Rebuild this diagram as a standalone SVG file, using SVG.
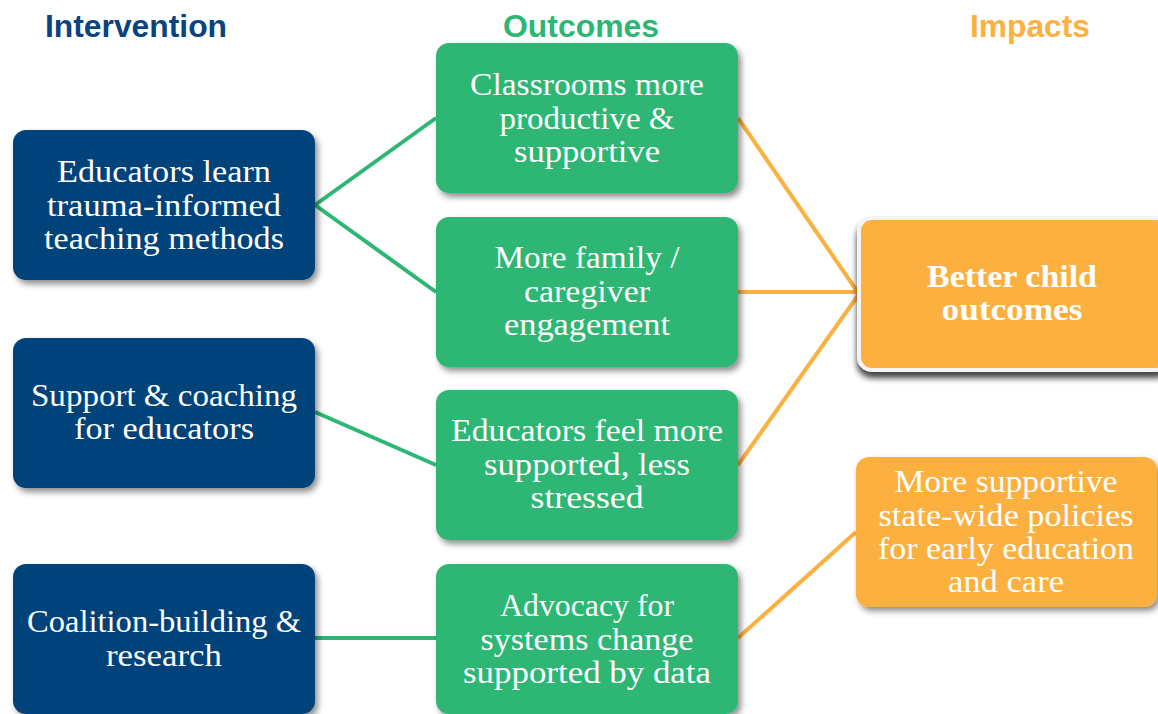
<svg xmlns="http://www.w3.org/2000/svg" width="1158" height="714" viewBox="0 0 1158 714">
<defs>
<style>
.hdr{font-family:"Liberation Sans",Arial,sans-serif;font-weight:bold;font-size:31px;text-anchor:middle}
.t{font-family:"Liberation Serif","Times New Roman",serif;font-size:31px;fill:#ffffff;text-anchor:middle}
.b{font-weight:bold}
.blue{fill:#00427a}
.green{fill:#2db674}
.orange{fill:#fbb040}
.lg{stroke:#2db674;stroke-width:4;fill:none}
.lo{stroke:#fbb040;stroke-width:4;fill:none}
</style>
<filter id="sh" x="-10%" y="-10%" width="125%" height="130%">
<feDropShadow dx="3" dy="4" stdDeviation="3" flood-color="#000" flood-opacity="0.45"/>
</filter>
<filter id="sh2" x="-10%" y="-10%" width="125%" height="130%">
<feDropShadow dx="0" dy="6" stdDeviation="3" flood-color="#000" flood-opacity="0.75"/>
</filter>
</defs>
<rect width="1158" height="714" fill="#ffffff"/>

<g id="headers">
<text class="hdr" x="136" y="37" fill="#0b4380" textLength="182" lengthAdjust="spacingAndGlyphs">Intervention</text>
<text class="hdr" x="581" y="37" fill="#2db674" textLength="156" lengthAdjust="spacingAndGlyphs">Outcomes</text>
<text class="hdr" x="1030" y="37" fill="#fbb040" textLength="120" lengthAdjust="spacingAndGlyphs">Impacts</text>
</g>

<g id="connectors">
<line class="lg" x1="315" y1="205" x2="436" y2="118"/>
<line class="lg" x1="315" y1="205" x2="436" y2="292"/>
<line class="lg" x1="315" y1="412" x2="436" y2="465"/>
<line class="lg" x1="315" y1="638" x2="436" y2="638"/>
<line class="lo" x1="738" y1="118" x2="857" y2="291"/>
<line class="lo" x1="738" y1="292" x2="858" y2="292"/>
<line class="lo" x1="738" y1="465" x2="859" y2="294"/>
<line class="lo" x1="738" y1="638" x2="856" y2="532"/>
</g>

<g id="n-educators-learn">
<rect class="blue" x="13" y="130" width="302" height="150" rx="13" filter="url(#sh)"/>
<text class="t" x="164" y="182" textLength="214" lengthAdjust="spacingAndGlyphs">Educators learn</text>
<text class="t" x="164" y="216" textLength="234" lengthAdjust="spacingAndGlyphs">trauma-informed</text>
<text class="t" x="164" y="249" textLength="240" lengthAdjust="spacingAndGlyphs">teaching methods</text>
</g>

<g id="n-support-coaching">
<rect class="blue" x="13" y="338" width="302" height="150" rx="13" filter="url(#sh)"/>
<text class="t" x="164" y="406" textLength="266" lengthAdjust="spacingAndGlyphs">Support &amp; coaching</text>
<text class="t" x="164" y="439" textLength="180" lengthAdjust="spacingAndGlyphs">for educators</text>
</g>

<g id="n-coalition">
<rect class="blue" x="13" y="564" width="302" height="150" rx="13" filter="url(#sh)"/>
<text class="t" x="164" y="632" textLength="274" lengthAdjust="spacingAndGlyphs">Coalition-building &amp;</text>
<text class="t" x="164" y="666" textLength="116" lengthAdjust="spacingAndGlyphs">research</text>
</g>

<g id="n-classrooms">
<rect class="green" x="436" y="43" width="302" height="150" rx="13" filter="url(#sh)"/>
<text class="t" x="587" y="95" textLength="234" lengthAdjust="spacingAndGlyphs">Classrooms more</text>
<text class="t" x="587" y="129" textLength="175" lengthAdjust="spacingAndGlyphs">productive &amp;</text>
<text class="t" x="587" y="162" textLength="146" lengthAdjust="spacingAndGlyphs">supportive</text>
</g>

<g id="n-family">
<rect class="green" x="436" y="217" width="302" height="150" rx="13" filter="url(#sh)"/>
<text class="t" x="587" y="268" textLength="185" lengthAdjust="spacingAndGlyphs">More family /</text>
<text class="t" x="587" y="302" textLength="126" lengthAdjust="spacingAndGlyphs">caregiver</text>
<text class="t" x="587" y="335" textLength="166" lengthAdjust="spacingAndGlyphs">engagement</text>
</g>

<g id="n-educators-feel">
<rect class="green" x="436" y="390" width="302" height="150" rx="13" filter="url(#sh)"/>
<text class="t" x="587" y="441" textLength="272" lengthAdjust="spacingAndGlyphs">Educators feel more</text>
<text class="t" x="587" y="475" textLength="206" lengthAdjust="spacingAndGlyphs">supported, less</text>
<text class="t" x="587" y="508" textLength="113" lengthAdjust="spacingAndGlyphs">stressed</text>
</g>

<g id="n-advocacy">
<rect class="green" x="436" y="564" width="302" height="150" rx="13" filter="url(#sh)"/>
<text class="t" x="587" y="616" textLength="174" lengthAdjust="spacingAndGlyphs">Advocacy for</text>
<text class="t" x="587" y="650" textLength="213" lengthAdjust="spacingAndGlyphs">systems change</text>
<text class="t" x="587" y="683" textLength="248" lengthAdjust="spacingAndGlyphs">supported by data</text>
</g>

<g id="n-better-child">
<rect class="orange" x="859" y="218" width="310" height="152" rx="13" stroke="#f4f4f4" stroke-width="4" filter="url(#sh2)"/>
<text class="t b" x="1012" y="287" textLength="170" lengthAdjust="spacingAndGlyphs">Better child</text>
<text class="t b" x="1012" y="320" textLength="141" lengthAdjust="spacingAndGlyphs">outcomes</text>
</g>

<g id="n-policies">
<rect class="orange" x="856" y="457" width="301" height="150" rx="13" filter="url(#sh)"/>
<text class="t" x="1006" y="492" textLength="223" lengthAdjust="spacingAndGlyphs">More supportive</text>
<text class="t" x="1006" y="526" textLength="255" lengthAdjust="spacingAndGlyphs">state-wide policies</text>
<text class="t" x="1006" y="559" textLength="256" lengthAdjust="spacingAndGlyphs">for early education</text>
<text class="t" x="1006" y="592" textLength="116" lengthAdjust="spacingAndGlyphs">and care</text>
</g>
</svg>
